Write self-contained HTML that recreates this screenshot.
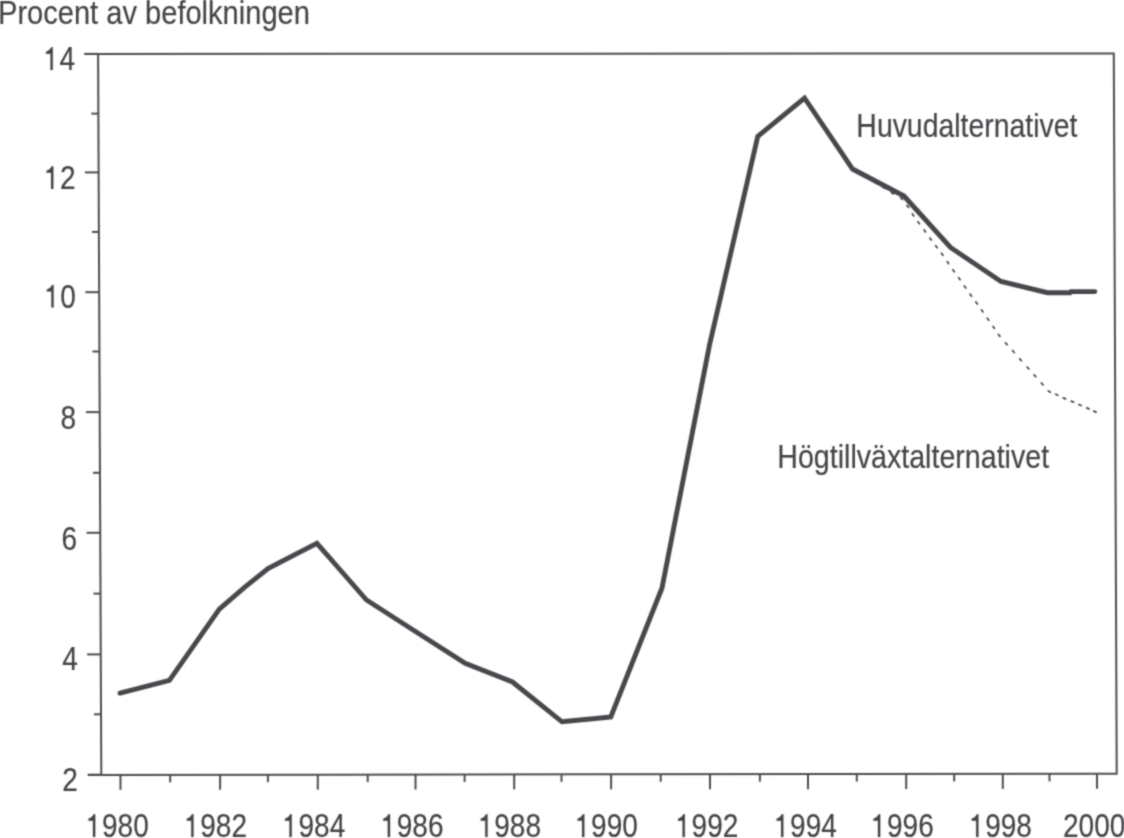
<!DOCTYPE html>
<html><head><meta charset="utf-8"><style>
html,body{margin:0;padding:0;background:#fff;}
body{width:1124px;height:838px;overflow:hidden;}
svg{display:block;}
text{font-family:"Liberation Sans",sans-serif;fill:#444246;stroke:#444246;stroke-width:0.15px;}
</style></head><body>
<svg width="1124" height="838" viewBox="0 0 1124 838">
<defs><filter id="b" x="0" y="0" width="1124" height="838" filterUnits="userSpaceOnUse"><feConvolveMatrix order="3" kernelMatrix="0.04 0.12 0.04 0.12 0.36 0.12 0.04 0.12 0.04" divisor="1" edgeMode="none"/></filter></defs>
<rect width="1124" height="838" fill="#ffffff"/>
<g filter="url(#b)">
<g stroke="#4f4c52" stroke-width="2" fill="none" stroke-linecap="butt">
<path d="M84.4,53.9 L1113.8,53.4 L1116.7,773.8 L88,774.9" fill="none"/>
<path d="M98.1,53.9 L101.3,774.9"/>
<path d="M84.40,53.90 H98.10"/>
<path d="M91.37,113.60 H98.37"/>
<path d="M84.93,172.40 H98.63"/>
<path d="M91.89,231.90 H98.89"/>
<path d="M85.46,292.20 H99.16"/>
<path d="M92.42,351.50 H99.42"/>
<path d="M85.99,412.10 H99.69"/>
<path d="M92.96,472.80 H99.96"/>
<path d="M86.53,532.80 H100.23"/>
<path d="M93.50,593.60 H100.50"/>
<path d="M87.07,654.40 H100.77"/>
<path d="M94.03,714.30 H101.03"/>
<path d="M87.60,774.70 H101.30"/>
<path d="M120.50,774.87 V789.87"/>
<path d="M170.20,774.81 V782.31"/>
<path d="M220.10,774.76 V789.76"/>
<path d="M267.90,774.71 V782.21"/>
<path d="M317.80,774.65 V789.65"/>
<path d="M367.70,774.60 V782.10"/>
<path d="M415.50,774.55 V789.55"/>
<path d="M464.60,774.50 V782.00"/>
<path d="M514.20,774.44 V789.44"/>
<path d="M561.50,774.39 V781.89"/>
<path d="M611.10,774.34 V789.34"/>
<path d="M660.70,774.29 V781.79"/>
<path d="M710.00,774.23 V789.23"/>
<path d="M759.90,774.18 V781.68"/>
<path d="M808.00,774.13 V789.13"/>
<path d="M856.80,774.08 V781.58"/>
<path d="M906.20,774.03 V789.03"/>
<path d="M954.20,773.97 V781.47"/>
<path d="M1002.80,773.92 V788.92"/>
<path d="M1049.50,773.87 V781.37"/>
<path d="M1097.00,773.82 V788.82"/>
</g>
<path d="M857.68,171.97L859.72,173.23M866.18,177.18L868.22,178.42M874.57,182.28L876.63,183.52M882.98,187.37L885.02,188.63M891.47,192.68L893.53,193.92M900.59,197.82L902.41,199.38M907.10,205.42L908.50,207.38M912.44,213.90L913.76,215.90M917.99,221.83L919.41,223.77M924.09,229.93L925.51,231.87M929.89,238.13L931.31,240.07M935.67,245.75L937.13,247.65M941.50,253.33L942.90,255.27M947.22,261.61L948.58,263.59M952.90,269.82L954.30,271.78M958.71,277.72L960.09,279.68M964.42,286.01L965.78,287.99M970.10,294.23L971.50,296.17M975.89,302.03L977.31,303.97M981.61,309.92L982.99,311.88M987.31,318.22L988.69,320.18M993.12,326.41L994.48,328.39M998.47,334.45L999.93,336.35M1005.51,342.90L1007.09,344.70M1012.60,350.70L1014.20,352.50M1019.70,358.80L1021.30,360.60M1027.20,367.11L1028.80,368.89M1034.10,374.90L1035.70,376.70M1041.39,383.01L1043.01,384.79M1048.34,390.89L1050.26,392.31M1055.71,394.21L1057.89,395.19M1063.30,397.91L1065.50,398.89M1071.29,401.13L1073.51,402.07M1078.90,404.52L1081.10,405.48M1086.80,407.91L1089.00,408.89M1093.81,411.10L1095.99,412.10" fill="none" stroke="#4a484c" stroke-width="1.75" stroke-linecap="round"/>
<polyline points="120.0,693.1 169.4,680.3 219.3,609.1 244.5,587.4 268.0,568.5 316.9,543.3 366.5,600.0 415.5,631.5 465.2,663.3 512.5,682.0 562.0,721.8 610.8,717.0 662.0,588.0 709.5,345.0 757.8,136.3 804.5,98.0 852.5,169.0 904.0,196.0 950.5,247.5 1001.0,281.5 1047.5,292.7 1070.0,292.7 1071.0,291.6 1094.8,291.6" fill="none" stroke="#4a474c" stroke-width="4.9" stroke-linejoin="miter" stroke-linecap="round"/>
<text transform="translate(-1.98,24.40) scale(0.8946,1)" font-size="32.5">Procent av befolkningen</text>
<text transform="translate(856.37,136.50) scale(0.874,1)" font-size="32.5">Huvudalternativet</text>
<text transform="translate(777.25,468.40) scale(0.867,1)" font-size="33">Högtillväxtalternativet</text>
<path transform="translate(43.86,70.00) scale(0.01370,-0.01611)" d="M480,0 L650,0 L650,1409 L530,1409 C470,1290 330,1170 150,1130 L150,1005 C300,1000 410,1000 480,1005 Z" fill="#444246" stroke="#444246" stroke-width="9.3"/>
<text transform="translate(59.46,70.00) scale(0.85,1)" font-size="33">4</text>
<path transform="translate(44.46,188.90) scale(0.01370,-0.01611)" d="M480,0 L650,0 L650,1409 L530,1409 C470,1290 330,1170 150,1130 L150,1005 C300,1000 410,1000 480,1005 Z" fill="#444246" stroke="#444246" stroke-width="9.3"/>
<text transform="translate(60.06,188.90) scale(0.85,1)" font-size="33">2</text>
<path transform="translate(44.76,307.60) scale(0.01370,-0.01611)" d="M480,0 L650,0 L650,1409 L530,1409 C470,1290 330,1170 150,1130 L150,1005 C300,1000 410,1000 480,1005 Z" fill="#444246" stroke="#444246" stroke-width="9.3"/>
<text transform="translate(60.36,307.60) scale(0.85,1)" font-size="33">0</text>
<text transform="translate(60.58,428.60) scale(0.85,1)" font-size="33">8</text>
<text transform="translate(61.58,549.70) scale(0.85,1)" font-size="33">6</text>
<text transform="translate(62.36,670.00) scale(0.85,1)" font-size="33">4</text>
<text transform="translate(62.19,791.40) scale(0.85,1)" font-size="33">2</text>
<path transform="translate(86.36,836.90) scale(0.01370,-0.01611)" d="M480,0 L650,0 L650,1409 L530,1409 C470,1290 330,1170 150,1130 L150,1005 C300,1000 410,1000 480,1005 Z" fill="#444246" stroke="#444246" stroke-width="9.3"/>
<text transform="translate(101.96,836.90) scale(0.85,1)" font-size="33">9</text>
<text transform="translate(117.56,836.90) scale(0.85,1)" font-size="33">8</text>
<text transform="translate(133.16,836.90) scale(0.85,1)" font-size="33">0</text>
<path transform="translate(184.66,836.90) scale(0.01370,-0.01611)" d="M480,0 L650,0 L650,1409 L530,1409 C470,1290 330,1170 150,1130 L150,1005 C300,1000 410,1000 480,1005 Z" fill="#444246" stroke="#444246" stroke-width="9.3"/>
<text transform="translate(200.26,836.90) scale(0.85,1)" font-size="33">9</text>
<text transform="translate(215.86,836.90) scale(0.85,1)" font-size="33">8</text>
<text transform="translate(231.46,836.90) scale(0.85,1)" font-size="33">2</text>
<path transform="translate(282.86,836.90) scale(0.01370,-0.01611)" d="M480,0 L650,0 L650,1409 L530,1409 C470,1290 330,1170 150,1130 L150,1005 C300,1000 410,1000 480,1005 Z" fill="#444246" stroke="#444246" stroke-width="9.3"/>
<text transform="translate(298.46,836.90) scale(0.85,1)" font-size="33">9</text>
<text transform="translate(314.06,836.90) scale(0.85,1)" font-size="33">8</text>
<text transform="translate(329.66,836.90) scale(0.85,1)" font-size="33">4</text>
<path transform="translate(381.16,836.90) scale(0.01370,-0.01611)" d="M480,0 L650,0 L650,1409 L530,1409 C470,1290 330,1170 150,1130 L150,1005 C300,1000 410,1000 480,1005 Z" fill="#444246" stroke="#444246" stroke-width="9.3"/>
<text transform="translate(396.76,836.90) scale(0.85,1)" font-size="33">9</text>
<text transform="translate(412.36,836.90) scale(0.85,1)" font-size="33">8</text>
<text transform="translate(427.96,836.90) scale(0.85,1)" font-size="33">6</text>
<path transform="translate(478.66,836.90) scale(0.01370,-0.01611)" d="M480,0 L650,0 L650,1409 L530,1409 C470,1290 330,1170 150,1130 L150,1005 C300,1000 410,1000 480,1005 Z" fill="#444246" stroke="#444246" stroke-width="9.3"/>
<text transform="translate(494.26,836.90) scale(0.85,1)" font-size="33">9</text>
<text transform="translate(509.86,836.90) scale(0.85,1)" font-size="33">8</text>
<text transform="translate(525.46,836.90) scale(0.85,1)" font-size="33">8</text>
<path transform="translate(575.46,836.90) scale(0.01370,-0.01611)" d="M480,0 L650,0 L650,1409 L530,1409 C470,1290 330,1170 150,1130 L150,1005 C300,1000 410,1000 480,1005 Z" fill="#444246" stroke="#444246" stroke-width="9.3"/>
<text transform="translate(591.06,836.90) scale(0.85,1)" font-size="33">9</text>
<text transform="translate(606.66,836.90) scale(0.85,1)" font-size="33">9</text>
<text transform="translate(622.26,836.90) scale(0.85,1)" font-size="33">0</text>
<path transform="translate(675.96,836.90) scale(0.01370,-0.01611)" d="M480,0 L650,0 L650,1409 L530,1409 C470,1290 330,1170 150,1130 L150,1005 C300,1000 410,1000 480,1005 Z" fill="#444246" stroke="#444246" stroke-width="9.3"/>
<text transform="translate(691.56,836.90) scale(0.85,1)" font-size="33">9</text>
<text transform="translate(707.16,836.90) scale(0.85,1)" font-size="33">9</text>
<text transform="translate(722.76,836.90) scale(0.85,1)" font-size="33">2</text>
<path transform="translate(774.46,836.90) scale(0.01370,-0.01611)" d="M480,0 L650,0 L650,1409 L530,1409 C470,1290 330,1170 150,1130 L150,1005 C300,1000 410,1000 480,1005 Z" fill="#444246" stroke="#444246" stroke-width="9.3"/>
<text transform="translate(790.06,836.90) scale(0.85,1)" font-size="33">9</text>
<text transform="translate(805.66,836.90) scale(0.85,1)" font-size="33">9</text>
<text transform="translate(821.26,836.90) scale(0.85,1)" font-size="33">4</text>
<path transform="translate(871.36,836.90) scale(0.01370,-0.01611)" d="M480,0 L650,0 L650,1409 L530,1409 C470,1290 330,1170 150,1130 L150,1005 C300,1000 410,1000 480,1005 Z" fill="#444246" stroke="#444246" stroke-width="9.3"/>
<text transform="translate(886.96,836.90) scale(0.85,1)" font-size="33">9</text>
<text transform="translate(902.56,836.90) scale(0.85,1)" font-size="33">9</text>
<text transform="translate(918.16,836.90) scale(0.85,1)" font-size="33">6</text>
<path transform="translate(969.56,836.90) scale(0.01370,-0.01611)" d="M480,0 L650,0 L650,1409 L530,1409 C470,1290 330,1170 150,1130 L150,1005 C300,1000 410,1000 480,1005 Z" fill="#444246" stroke="#444246" stroke-width="9.3"/>
<text transform="translate(985.16,836.90) scale(0.85,1)" font-size="33">9</text>
<text transform="translate(1000.76,836.90) scale(0.85,1)" font-size="33">9</text>
<text transform="translate(1016.36,836.90) scale(0.85,1)" font-size="33">8</text>
<text transform="translate(1062.99,836.90) scale(0.85,1)" font-size="33">2</text>
<text transform="translate(1078.59,836.90) scale(0.85,1)" font-size="33">0</text>
<text transform="translate(1094.19,836.90) scale(0.85,1)" font-size="33">0</text>
<text transform="translate(1109.79,836.90) scale(0.85,1)" font-size="33">0</text>
</g>
</svg>
</body></html>
